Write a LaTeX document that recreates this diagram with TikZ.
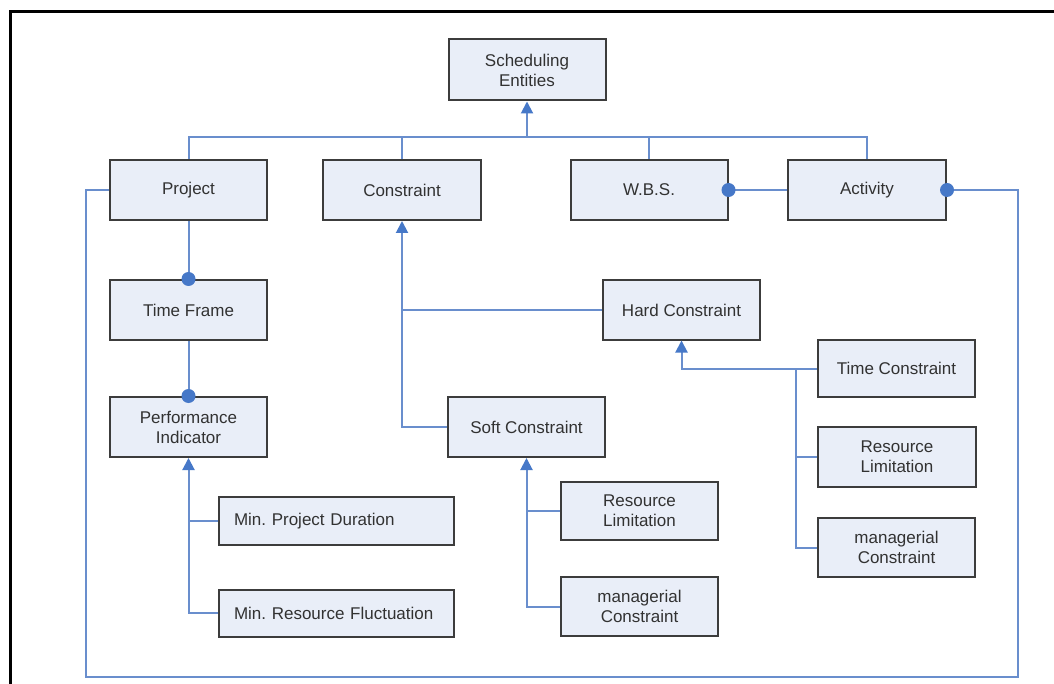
\documentclass[tikz,border=0pt]{standalone}
\usepackage{fontspec}
\setmainfont{Liberation Sans}
\usetikzlibrary{arrows.meta}
\frenchspacing
\definecolor{boxfill}{RGB}{233,238,248}
\definecolor{boxline}{RGB}{60,60,60}
\definecolor{txt}{RGB}{50,50,50}
\definecolor{conncol}{RGB}{105,142,205}
\definecolor{tipcol}{RGB}{70,120,200}
\tikzset{
  ebox/.style={draw=boxline, line width=2pt, fill=boxfill, text=txt, align=center,
    inner sep=2pt, font=\fontsize{17}{20}\selectfont},
  lbox/.style={ebox, anchor=west, minimum width=235pt, text width=205pt, inner xsep=15pt, align=left},
  conn/.style={draw=conncol, line width=2pt},
  arr/.style={conn, -{Triangle[width=12pt,length=12pt,color=tipcol]}},
  dotc/.style={fill=tipcol},
}
\begin{document}
\begin{tikzpicture}[x=1pt,y=-1pt]
\useasboundingbox (0,0) rectangle (1054,684);
\fill[white] (0,0) rectangle (1054,684);
\draw[line width=3pt, black] (10,684) -- (10,12) -- (1054,12);

\node[ebox, minimum width=157pt, minimum height=61pt] (se) at (527,70) {Scheduling\\Entities};
\node[ebox, minimum width=157pt, minimum height=60pt] (proj) at (188.5,190) {Project};
\node[ebox, minimum width=158pt, minimum height=60pt] (cons) at (402,190) {Constraint};
\node[ebox, minimum width=157pt, minimum height=60pt] (wbs) at (649,190) {W.B.S.};
\node[ebox, minimum width=158pt, minimum height=60pt] (act) at (867,190) {Activity};
\node[ebox, minimum width=157pt, minimum height=60pt] (tf) at (188.5,310) {Time Frame};
\node[ebox, minimum width=157pt, minimum height=60pt] (pi) at (188.5,427) {Performance\\Indicator};
\node[lbox, minimum height=48pt] (mpd) at (218,521) {\mbox{Min. Project Duration}};
\node[lbox, minimum height=47pt] (mrf) at (218,613) {\mbox{Min. Resource Fluctuation}};
\node[ebox, minimum width=157pt, minimum height=59pt] (hc) at (681.5,310) {Hard Constraint};
\node[ebox, minimum width=157pt, minimum height=60pt] (sc) at (526.5,427) {Soft Constraint};
\node[ebox, minimum width=157pt, minimum height=57pt] (tc) at (896.5,368.5) {Time Constraint};
\node[ebox, minimum width=158pt, minimum height=60pt] (rl2) at (897,457) {Resource\\Limitation};
\node[ebox, minimum width=157pt, minimum height=59pt] (mc2) at (896.5,547.5) {managerial\\Constraint};
\node[ebox, minimum width=157pt, minimum height=58pt] (rl1) at (639.5,511) {Resource\\Limitation};
\node[ebox, minimum width=157pt, minimum height=59pt] (mc1) at (639.5,606.5) {managerial\\Constraint};

% top bus
\coordinate (b) at (527,137);
\draw[conn] (proj.north) |- (act.north |- b) -- (act.north);
\draw[conn] (cons.north) -- (cons.north |- b);
\draw[conn] (wbs.north) -- (wbs.north |- b);
\draw[arr] (b) -- (se.south);

% WBS - Activity
\draw[conn] (wbs.east) -- (act.west);
\fill[dotc] (wbs.east) circle (7pt);

% outer loop Activity - Project
\coordinate (r) at (1018,677);
\coordinate (l) at (86,677);
\draw[conn] (act.east) -| (r) -- (l) |- (proj.west);
\fill[dotc] (act.east) circle (7pt);

% Project - Time Frame - Performance Indicator
\draw[conn] (proj.south) -- (tf.north);
\fill[dotc] (tf.north) circle (7pt);
\draw[conn] (tf.south) -- (pi.north);
\fill[dotc] (pi.north) circle (7pt);

% Performance indicator children
\draw[arr] (mrf.west) -| (pi.south);
\draw[conn] (mpd.west) -- (mpd.west -| pi.south);

% Constraint children
\draw[arr] (sc.west) -| (cons.south);
\draw[conn] (hc.west) -- (hc.west -| cons.south);

% Hard constraint children
\coordinate (hb) at (796,369);
\draw[arr] (mc2.west) -| (hb) -| (hc.south);
\draw[conn] (tc.west) -- (tc.west -| hb);
\draw[conn] (rl2.west) -- (rl2.west -| hb);

% Soft constraint children
\draw[arr] (mc1.west) -| (sc.south);
\draw[conn] (rl1.west) -- (rl1.west -| sc.south);
\end{tikzpicture}
\end{document}
